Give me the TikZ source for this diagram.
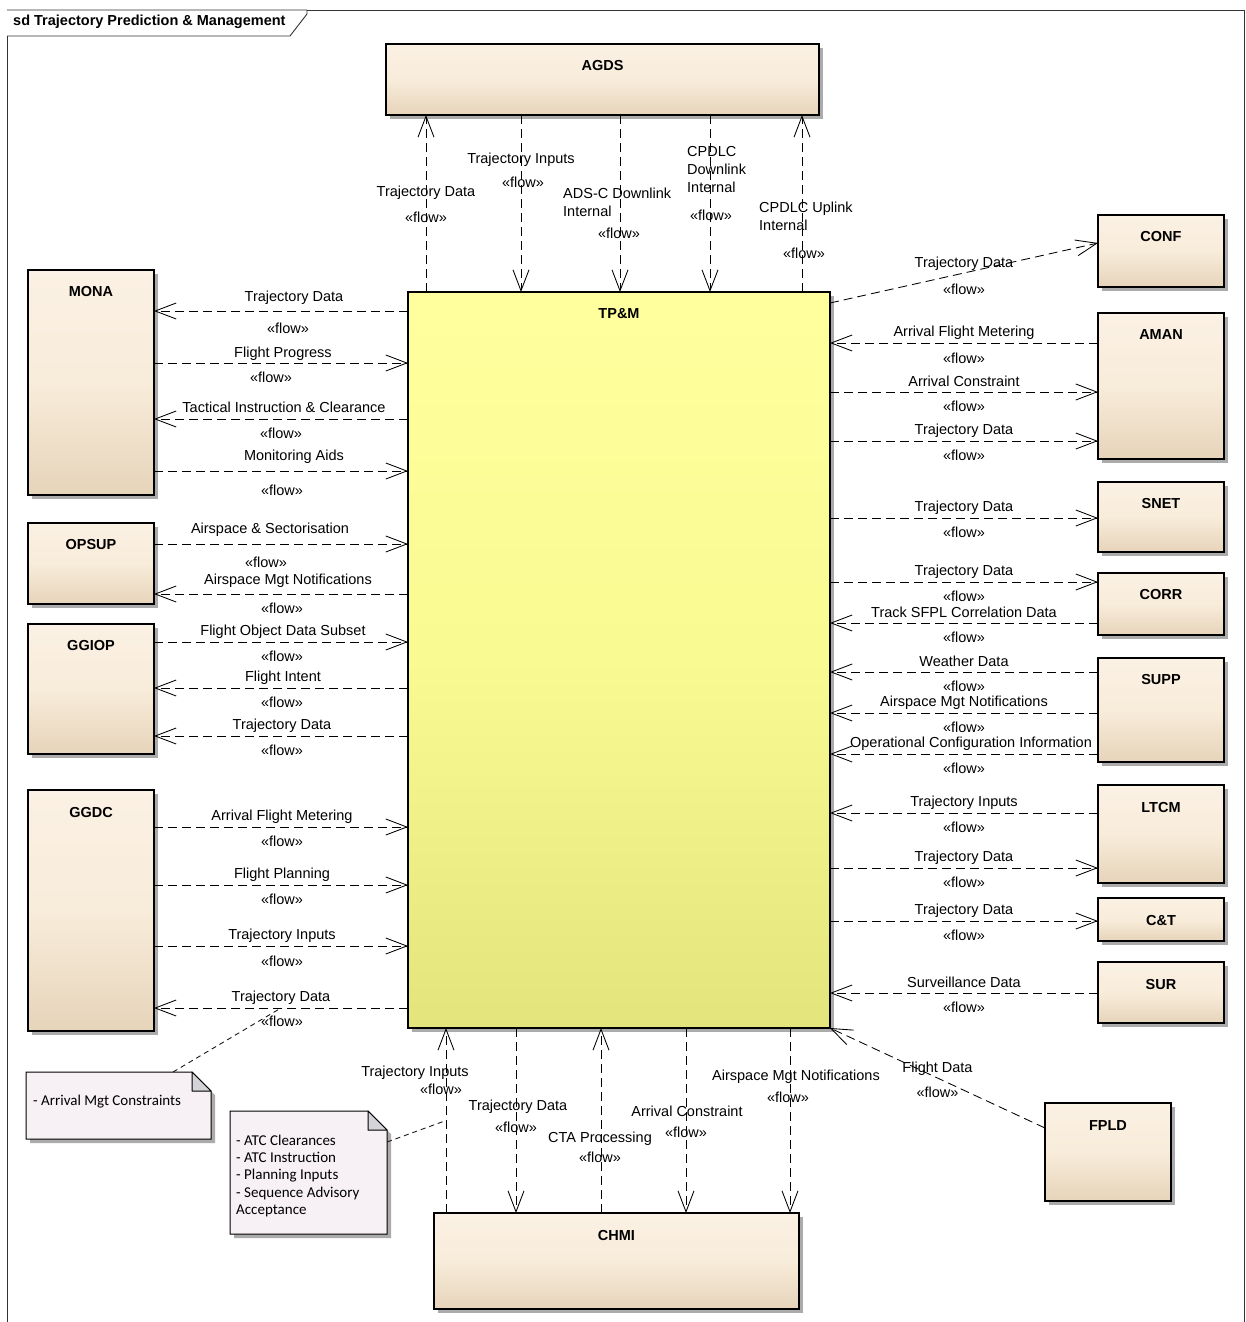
\documentclass[tikz,border=0pt]{standalone}
\usepackage{fontspec}
\setmainfont{Liberation Sans}
\newfontfamily\notefont{Carlito}
\usetikzlibrary{arrows.meta,shadows}
\definecolor{boxtop}{HTML}{FBF1E4}
\definecolor{boxmid}{HTML}{F8ECDA}
\definecolor{boxbot}{HTML}{E6D4BA}
\definecolor{tpmtop}{HTML}{FFFF9E}
\definecolor{tpmmid}{HTML}{FAFA92}
\definecolor{tpmbot}{HTML}{E4E47C}
\definecolor{notefill}{HTML}{F7F1F6}
\definecolor{foldfill}{HTML}{D3D3D8}
\definecolor{shadowgray}{HTML}{ABABAB}
\tikzset{
  txt/.style={font=\fontsize{14.5}{18}\selectfont, inner sep=0pt, text=black},
  boxlbl/.style={font=\fontsize{14.5}{18}\selectfont\bfseries, anchor=center, yshift=-22pt, inner sep=0pt},
  shad/.style={drop shadow={shadow xshift=4pt, shadow yshift=-4pt, fill=shadowgray, opacity=1}},
  blk/.style={rectangle, draw=black, line width=1.1pt, inner sep=0pt, outer sep=0pt, anchor=north west,
    top color=boxtop, bottom color=boxbot, middle color=boxmid, shad, label={[boxlbl]north:#1}},
  core/.style={blk=#1, top color=tpmtop, bottom color=tpmbot, middle color=tpmmid},
  flow/.style={draw=black, line width=0.85pt, dash pattern=on 9pt off 5pt,
    -{Straight Barb[length=21pt,width=16pt,line width=0.85pt]}},
  lab/.style={txt, midway, anchor=center, yshift=10.5pt},
  flw/.style={txt, midway, anchor=center, yshift=-14.5pt},
  notelink/.style={draw=black!90, line width=0.9pt, dash pattern=on 5pt off 4pt},
  notebox/.style={rectangle, draw=none, inner sep=0pt, outer sep=0pt, anchor=north west},
  notetxt/.style={font=\notefont\fontsize{15}{17.3}\selectfont, inner sep=0pt, align=left, text=black},
}
\begin{document}
\begin{tikzpicture}[x=1pt,y=-1pt]
\useasboundingbox (0,0) rectangle (1245,1322);
% frame
\draw[line width=0.9pt, draw=black!80] (7,1322) -- (7,10) -- (1244,10) -- (1244,1322);
\draw[line width=0.9pt, draw=black!80, fill=white] (7,10) -- (307,10) -- (307,14) -- (290,36) -- (7,36);
\node[txt, font=\fontsize{14.5}{18}\selectfont\bfseries, anchor=west] (title) at (13,22) {sd Trajectory Prediction \& Management};

% helper coordinates
\foreach \yy in {243,303,311,343,363,392,419,441,471,518,544,582,594,623,642,672,688,713,736,754,813,827,868,885,921,946,993,1008,1128,1142}
  \coordinate (y\yy) at (0,\yy);
\foreach \xx in {426,521,620,710,802,446,516,601,686,790}
  \coordinate (x\xx) at (\xx,0);

% blocks
\node[blk=AGDS, minimum width=433pt, minimum height=71pt] (agds) at (386,44) {};
\node[core=TP\&M, minimum width=422pt, minimum height=736pt] (tpm) at (408,292) {};
\node[blk=MONA, minimum width=126pt, minimum height=225pt] (mona) at (28,270) {};
\node[blk=OPSUP, minimum width=126pt, minimum height=81pt] (opsup) at (28,523) {};
\node[blk=GGIOP, minimum width=126pt, minimum height=130pt] (ggiop) at (28,624) {};
\node[blk=GGDC, minimum width=126pt, minimum height=241pt] (ggdc) at (28,790) {};
\node[blk=CONF, minimum width=126pt, minimum height=72pt] (conf) at (1098,215) {};
\node[blk=AMAN, minimum width=126pt, minimum height=146pt] (aman) at (1098,313) {};
\node[blk=SNET, minimum width=126pt, minimum height=70pt] (snet) at (1098,482) {};
\node[blk=CORR, minimum width=126pt, minimum height=62pt] (corr) at (1098,573) {};
\node[blk=SUPP, minimum width=126pt, minimum height=104pt] (supp) at (1098,658) {};
\node[blk=LTCM, minimum width=126pt, minimum height=98pt] (ltcm) at (1098,785) {};
\node[blk=C\&T, minimum width=126pt, minimum height=43pt] (ct) at (1098,898) {};
\node[blk=SUR, minimum width=126pt, minimum height=61pt] (sur) at (1098,962) {};
\node[blk=FPLD, minimum width=126pt, minimum height=98pt] (fpld) at (1045,1103) {};
\node[blk=CHMI, minimum width=365pt, minimum height=96pt] (chmi) at (434,1213) {};

% top connectors (AGDS <-> TP&M)
\draw[flow] (tpm.north -| x426) -- (agds.south -| x426);
\draw[flow] (agds.south -| x521) -- (tpm.north -| x521);
\draw[flow] (agds.south -| x620) -- (tpm.north -| x620);
\draw[flow] (agds.south -| x710) -- (tpm.north -| x710);
\draw[flow] (tpm.north -| x802) -- (agds.south -| x802);
\node[txt] (tl1) at (426,193) {Trajectory Data};
\node[txt] (tf1) at (426,217) {«flow»};
\node[txt] (tl2) at (521,160) {Trajectory Inputs};
\node[txt] (tf2) at (523,182) {«flow»};
\node[txt, align=left, anchor=north west] (tl3) at (563,187.5) {ADS-C Downlink\\Internal};
\node[txt] (tf3) at (619,233) {«flow»};
\node[txt, align=left, anchor=north west] (tl4) at (687,146.5) {CPDLC\\Downlink\\Internal};
\node[txt] (tf4) at (711,215) {«flow»};
\node[txt, align=left, anchor=north west] (tl5) at (759,201.5) {CPDLC Uplink\\Internal};
\node[txt] (tf5) at (804,253) {«flow»};

% right connectors
\draw[flow] (tpm.east |- y303) -- (conf.west |- y243) node[lab, yshift=-1.5pt]{Trajectory Data} node[flw, yshift=-1.5pt]{«flow»};
\draw[flow] (aman.west |- y343) -- (tpm.east |- y343) node[lab]{Arrival Flight Metering} node[flw, yshift=-1pt]{«flow»};
\draw[flow] (tpm.east |- y392) -- (aman.west |- y392) node[lab]{Arrival Constraint} node[flw]{«flow»};
\draw[flow] (tpm.east |- y441) -- (aman.west |- y441) node[lab]{Trajectory Data} node[flw]{«flow»};
\draw[flow] (tpm.east |- y518) -- (snet.west |- y518) node[lab]{Trajectory Data} node[flw]{«flow»};
\draw[flow] (tpm.east |- y582) -- (corr.west |- y582) node[lab]{Trajectory Data} node[flw]{«flow»};
\draw[flow] (corr.west |- y623) -- (tpm.east |- y623) node[lab]{Track SFPL Correlation Data} node[flw]{«flow»};
\draw[flow] (supp.west |- y672) -- (tpm.east |- y672) node[lab]{Weather Data} node[flw]{«flow»};
\draw[flow] (supp.west |- y713) -- (tpm.east |- y713) node[lab]{Airspace Mgt Notifications} node[flw]{«flow»};
\draw[flow] (supp.west |- y754) -- (tpm.east |- y754) node[lab, xshift=7pt]{Operational Configuration Information} node[flw]{«flow»};
\draw[flow] (ltcm.west |- y813) -- (tpm.east |- y813) node[lab]{Trajectory Inputs} node[flw]{«flow»};
\draw[flow] (tpm.east |- y868) -- (ltcm.west |- y868) node[lab]{Trajectory Data} node[flw]{«flow»};
\draw[flow] (tpm.east |- y921) -- (ct.west |- y921) node[lab]{Trajectory Data} node[flw]{«flow»};
\draw[flow] (sur.west |- y993) -- (tpm.east |- y993) node[lab]{Surveillance Data} node[flw]{«flow»};
\draw[flow] (fpld.west |- y1128) -- (tpm.south east) node[lab, yshift=-1pt]{Flight Data} node[flw]{«flow»};

% left connectors
\draw[flow] (tpm.west |- y311) -- (mona.east |- y311) node[lab, xshift=13pt, yshift=2.5pt]{Trajectory Data} node[flw, xshift=7pt, yshift=-2.5pt]{«flow»};
\draw[flow] (mona.east |- y363) -- (tpm.west |- y363) node[lab, xshift=2pt, yshift=-1.5pt]{Flight Progress} node[flw, xshift=-10pt]{«flow»};
\draw[flow] (tpm.west |- y419) -- (mona.east |- y419) node[lab, xshift=3pt, yshift=1.5pt]{Tactical Instruction \& Clearance} node[flw, yshift=0.5pt]{«flow»};
\draw[flow] (mona.east |- y471) -- (tpm.west |- y471) node[lab, xshift=13pt, yshift=3.5pt]{Monitoring Aids} node[flw, xshift=1pt, yshift=-4.5pt]{«flow»};
\draw[flow] (opsup.east |- y544) -- (tpm.west |- y544) node[lab, xshift=-11pt, yshift=3.5pt]{Airspace \& Sectorisation} node[flw, xshift=-15pt, yshift=-3.5pt]{«flow»};
\draw[flow] (tpm.west |- y594) -- (opsup.east |- y594) node[lab, xshift=7pt, yshift=2.5pt]{Airspace Mgt Notifications} node[flw, xshift=1pt, yshift=0.5pt]{«flow»};
\draw[flow] (ggiop.east |- y642) -- (tpm.west |- y642) node[lab, xshift=2pt]{Flight Object Data Subset} node[flw, xshift=1pt]{«flow»};
\draw[flow] (tpm.west |- y688) -- (ggiop.east |- y688) node[lab, xshift=2pt]{Flight Intent} node[flw, xshift=1pt]{«flow»};
\draw[flow] (tpm.west |- y736) -- (ggiop.east |- y736) node[lab, xshift=1pt]{Trajectory Data} node[flw, xshift=1pt]{«flow»};
\draw[flow] (ggdc.east |- y827) -- (tpm.west |- y827) node[lab, xshift=1pt]{Arrival Flight Metering} node[flw, xshift=1pt]{«flow»};
\draw[flow] (ggdc.east |- y885) -- (tpm.west |- y885) node[lab, xshift=1pt]{Flight Planning} node[flw, xshift=1pt]{«flow»};
\draw[flow] (ggdc.east |- y946) -- (tpm.west |- y946) node[lab, xshift=1pt]{Trajectory Inputs} node[flw, xshift=1pt, yshift=-1pt]{«flow»};
\draw[flow] (tpm.west |- y1008) -- (ggdc.east |- y1008) coordinate[midway] (c1) node[lab]{Trajectory Data} node[flw, xshift=1pt, yshift=1pt]{«flow»};

% bottom connectors (TP&M <-> CHMI)
\draw[flow] (chmi.north -| x446) -- (tpm.south -| x446) coordinate[midway] (c2);
\draw[flow] (tpm.south -| x516) -- (chmi.north -| x516);
\draw[flow] (chmi.north -| x601) -- (tpm.south -| x601);
\draw[flow] (tpm.south -| x686) -- (chmi.north -| x686);
\draw[flow] (tpm.south -| x790) -- (chmi.north -| x790);
\node[txt] (bl1) at (415,1073) {Trajectory Inputs};
\node[txt] (bf1) at (441,1089) {«flow»};
\node[txt] (bl2) at (518,1107) {Trajectory Data};
\node[txt] (bf2) at (516,1127) {«flow»};
\node[txt] (bl3) at (600,1139) {CTA Processing};
\node[txt] (bf3) at (600,1157) {«flow»};
\node[txt] (bl4) at (687,1111) {Arrival Constraint};
\node[txt] (bf4) at (686,1132) {«flow»};
\node[txt] (bl5) at (796,1077) {Airspace Mgt Notifications};
\node[txt] (bf5) at (788,1097) {«flow»};

% notes
\node[notebox, minimum width=185pt, minimum height=67pt] (n1) at (26,1072) {};
\node[notebox, minimum width=157pt, minimum height=123pt] (n2) at (230,1111) {};
\foreach \n in {n1,n2}{
  \draw[line width=1pt, fill=notefill, shad] (\n.north west) -- ([xshift=-19pt]\n.north east) -- ([yshift=-19pt]\n.north east) -- (\n.south east) -- (\n.south west) -- cycle;
  \draw[line width=1pt, fill=foldfill, line join=round] ([xshift=-19pt]\n.north east) -- ([xshift=-19pt,yshift=-19pt]\n.north east) -- ([yshift=-19pt]\n.north east) -- cycle;
}
\node[notetxt, anchor=west] (n1t) at (33,1102) {- Arrival Mgt Constraints};
\node[notetxt, anchor=north west] (n2t) at (236,1134.5) {- ATC Clearances\\- ATC Instruction\\- Planning Inputs\\- Sequence Advisory\\Acceptance};
\draw[notelink] ([xshift=147pt]n1.north west) -- (c1);
\draw[notelink] (n2.east |- y1142) -- (c2);
\end{tikzpicture}
\end{document}
